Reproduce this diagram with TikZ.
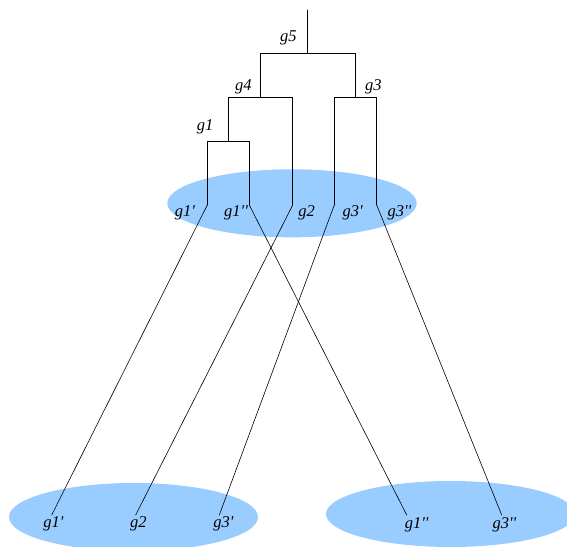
\documentclass[tikz,border=0pt]{standalone}
\usepackage{fontspec}
\newfontfamily\genefont{Liberation Serif}
\usetikzlibrary{positioning}
\definecolor{poolblue}{RGB}{153,204,255}

\begin{document}
\begin{tikzpicture}[x=1pt,y=-1pt,line cap=round,line width=0.6pt,
    every node/.style={font=\genefont\itshape\fontsize{16.5}{18}\selectfont,inner sep=0pt}]
  \useasboundingbox (0,0) rectangle (567,546);
  \clip (0,0) rectangle (567,546);
  % species pools
  \fill[poolblue] (292,203.3) ellipse [x radius=124.7,y radius=34];
  \fill[poolblue] (133.5,517) ellipse [x radius=124.5,y radius=34];
  \fill[poolblue] (450.5,514) ellipse [x radius=124.5,y radius=33];
  % gene tree
  \coordinate (root) at (307.7,10);
  \coordinate (g5) at (307.7,53);
  \coordinate (g4) at (260,97);
  \coordinate (g3) at (355,97);
  \coordinate (g1) at (228,141);
  \foreach \n/\x in {t1a/207.3,t1b/249.3,t2/292.7,t3a/334.3,t3b/376.7}{
    \coordinate (\n) at (\x,205);
  }
  \foreach \n/\x in {b1a/51.7,b2/135.7,b3a/219.3,b1b/406.7,b3b/501.7}{
    \coordinate (\n) at (\x,515);
  }
  \draw (root) -- (g5);
  \foreach \a/\b in {g5/g4,g5/g3,g4/g1,g4/t2,g1/t1a,g1/t1b,g3/t3a,g3/t3b}{
    \draw (\a) -| (\b);
  }
  \foreach \a/\b in {t1a/b1a,t1b/b1b,t2/b2,t3a/b3a,t3b/b3b}{
    \draw (\a) -- (\b);
  }
  % labels
  \foreach \n/\x/\y/\t in {l5/288.3/38.3/g5,l4/243.3/87/g4,l3/373.3/87/g3,l1/205/127.3/g1,
      la1a/185/212.7/g1',la1b/236/212.7/g1'',la2/306.7/212.7/g2,la3a/352.7/212.7/g3',la3b/399.3/212.7/g3'',
      lb1a/53.3/524/g1',lb2/138.3/524/g2,lb3a/223.3/524/g3',lb1b/416.7/525/g1'',lb3b/504.3/525/g3''}{
    \node (\n) at (\x,\y) {\t};
  }
\end{tikzpicture}
\end{document}
